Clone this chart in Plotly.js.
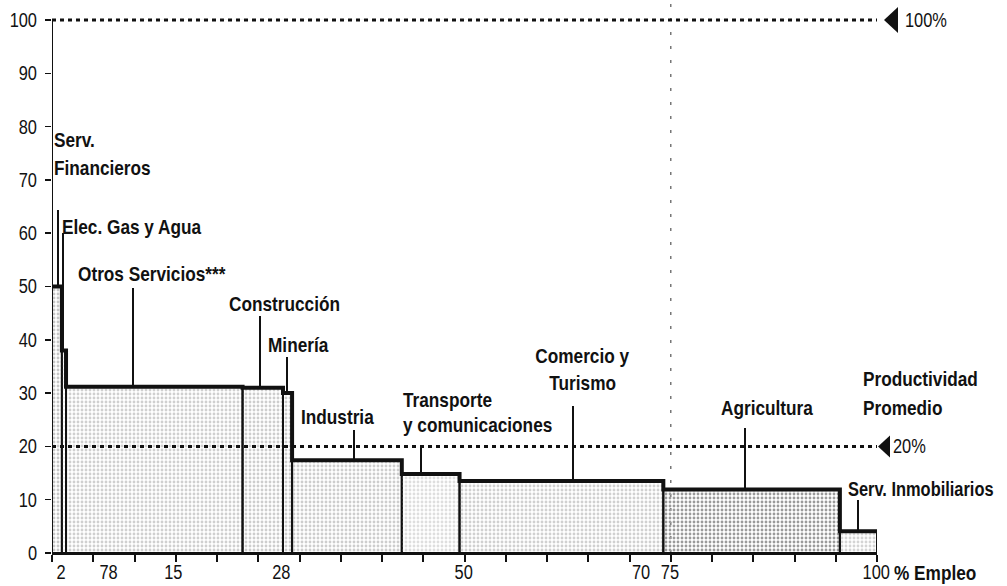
<!DOCTYPE html>
<html><head><meta charset="utf-8">
<script src="https://cdn.plot.ly/plotly-3.0.1.min.js"></script>
<style>html,body{margin:0;padding:0;background:#fff;} #chart{width:1007px;height:586px;}</style>
</head><body><div id="chart"></div>
<script>
// ---- data ----
const sectores = ['Serv. Financieros','Elec. Gas y Agua','Otros Servicios***','Construcción','Minería','Industria','Transporte y comunicaciones','Comercio y Turismo','Agricultura','Serv. Inmobiliarios'];
const empleo = [1.2, 0.5, 21.4, 4.9, 1.1, 13.3, 7.0, 24.7, 21.4, 4.5];          // % of employment (bar widths)
const productividad = [50, 38, 31.2, 31.0, 30.0, 17.4, 14.8, 13.5, 11.9, 4.1]; // bar heights
const promedio = 20;
const maximo = 100;
const corte = 75;
const xTickVals = [1.1, 6.85, 14.7, 27.8, 49.9, 71.4, 74.9, 99.9];
const xTickText = ['2','78','15','28','50','70','75','100'];
const yTickVals = [0,10,20,30,40,50,60,70,80,90,100];

// ---- styles ----
const bgFill = ['#c6c6c6','#c6c6c6','#cfcfcf','#cdcdcd','#cbcbcb','#cdcdcd','#dedede','#d0d0d0','#9a9a9a','#d4d4d4'];
const fgFill = ['#707070','#707070','#7e7e7e','#7c7c7c','#7c7c7c','#7a7a7a','#a4a4a4','#828282','#505050','#8c8c8c'];
const FONT = '"Liberation Sans", Arial, "DejaVu Sans", sans-serif';
const SQUEEZE = 0.82; // narrow (condensed) look of the original lettering

// geometry helpers (layout)
const L = 52, W = 825, H = 553, YMAX = 103.75;
const px2x = p => (p - L) / W * 100;
const py2y = p => (H - p) * YMAX / H;
const px2p = p => (p - L) / W;
const py2p = p => (H - p) / H;
const y2py = v => H - v * H / YMAX;

// derived positions
const starts = [];
let acc = 0;
empleo.forEach(w => { starts.push(acc); acc += w; });
const centers = starts.map((s, i) => s + empleo[i] / 2);

const barTrace = {
  type: 'bar', x: centers, y: productividad, width: empleo, text: sectores,
  hoverinfo: 'skip', textposition: 'none',
  marker: {
    color: bgFill,
    line: {color: '#111', width: 2},
    pattern: {shape: '.', fillmode: 'replace', bgcolor: bgFill, fgcolor: fgFill, size: 4, solidity: 0.4}
  }
};
const topTrace = {
  type: 'scatter', mode: 'lines', hoverinfo: 'skip',
  x: starts.concat([acc]), y: productividad.concat([productividad[productividad.length - 1]]),
  line: {shape: 'hv', color: '#111', width: 4}
};
const tickTrace = {type: 'scatter', x: [], y: [], xaxis: 'x2', yaxis: 'y', hoverinfo: 'skip', showlegend: false};

// label placement (pixels)
const labels = [
  {t:'Serv.', x:53, y:139, a:'left'},
  {t:'Financieros', x:53, y:168, a:'left'},
  {t:'Elec. Gas y Agua', x:61, y:227, a:'left'},
  {t:'Otros Servicios***', x:77, y:273, a:'left'},
  {t:'Construcción', x:228, y:303, a:'left'},
  {t:'Minería', x:267, y:344, a:'left'},
  {t:'Industria', x:300, y:416, a:'left'},
  {t:'Transporte', x:402, y:399, a:'left'},
  {t:'y comunicaciones', x:402, y:424, a:'left'},
  {t:'Comercio y', x:582, y:355, a:'center'},
  {t:'Turismo', x:582, y:382, a:'center'},
  {t:'Agricultura', x:720, y:407, a:'left'},
  {t:'Productividad', x:862, y:378, a:'left'},
  {t:'Promedio', x:862, y:407, a:'left'},
  {t:'Serv. Inmobiliarios', x:847, y:489, a:'left', s:20},
  {t:'% Empleo', x:893, y:572, a:'left'}
];
const leaders = [[58,210],[63,233],[133,288],[260,316],[287,357],[354,430],[421,445],[573,406],[745,428],[858,500]];

const annotations = labels.map(l => ({
  text: l.t, xref: 'paper', yref: 'paper', x: px2p(l.x), y: py2p(l.y),
  xanchor: l.a, align: l.a, yanchor: 'middle', showarrow: false, borderpad: 0,
  font: {family: FONT, size: l.s || 21, color: '#111', weight: 'bold'}
}));
annotations.push({text: '100%', xref:'paper', yref:'paper', x: px2p(904), y: py2p(y2py(maximo)), xanchor:'left', align:'left', yanchor:'middle', showarrow:false, borderpad: 0, font:{family: FONT, size: 20, color:'#111'}});
annotations.push({text: '20%', xref:'paper', yref:'paper', x: px2p(892), y: py2p(y2py(promedio)), xanchor:'left', align:'left', yanchor:'middle', showarrow:false, borderpad: 0, font:{family: FONT, size: 20, color:'#111'}});

const shapes = [];
// vertical dashed line at 75
shapes.push({type:'line', xref:'x', yref:'y', x0: corte, x1: corte, y0: 0, y1: YMAX, layer:'below', line:{color:'#777', width:1.5, dash:'3px,11px'}});
// y axis line
shapes.push({type:'line', xref:'x', yref:'y', x0: 0, x1: 0, y0: 0, y1: maximo, layer:'above', line:{color:'#111', width:2}});
// dotted reference lines
[maximo, promedio].forEach(v => shapes.push({type:'line', xref:'x', yref:'y', x0: 0, x1: 100, y0: v, y1: v, layer:'above', line:{color:'#111', width:3, dash:'4px,4px'}}));
// leader lines
leaders.forEach((ld, i) => shapes.push({type:'line', xref:'x', yref:'y', x0: px2x(ld[0]), x1: px2x(ld[0]), y0: py2y(ld[1]), y1: productividad[i], layer:'above', line:{color:'#111', width:2}}));
// triangles
function tri(tipX, cy, baseX, half) {
  return `M ${px2p(tipX)},${py2p(cy)} L ${px2p(baseX)},${py2p(cy - half)} L ${px2p(baseX)},${py2p(cy + half)} Z`;
}
shapes.push({type:'path', xref:'paper', yref:'paper', path: tri(884, y2py(maximo), 898, 13), fillcolor:'#111', line:{width:0}});
shapes.push({type:'path', xref:'paper', yref:'paper', path: tri(878, y2py(promedio), 890, 11), fillcolor:'#111', line:{width:0}});

const layout = {
  width: 1007, height: 586,
  margin: {l: L, r: 1007 - L - W, t: 0, b: 586 - H, pad: 0},
  paper_bgcolor: '#fff', plot_bgcolor: '#fff',
  showlegend: false,
  xaxis: {range: [0, 100], tickvals: [0,5,10,15,20,25,30,35,40,45,50,55,60,65,70,75,80,85,90,95,100],
          showticklabels: false, ticks: 'outside', ticklen: 7, tickwidth: 2, tickcolor: '#111',
          showline: true, linewidth: 2, linecolor: '#111', showgrid: false, zeroline: false, fixedrange: true},
  xaxis2: {overlaying: 'x', anchor: 'y', side: 'bottom', range: [0, 100], tickmode: 'array', tickvals: xTickVals, ticktext: xTickText,
           ticks: '', tickangle: 0, showline: false, showgrid: false, zeroline: false, ticklabelstandoff: 5,
           tickfont: {family: FONT, size: 20, color: '#111'}, fixedrange: true},
  yaxis: {range: [0, YMAX], tickvals: yTickVals, ticks: 'outside', ticklen: 6, tickwidth: 1.5, tickcolor: '#111',
          showline: false, showgrid: false, zeroline: false, ticklabelstandoff: 4,
          tickfont: {family: FONT, size: 20, color: '#111'}, fixedrange: true},
  annotations: annotations,
  shapes: shapes
};

Plotly.newPlot('chart', [barTrace, topTrace, tickTrace], layout, {displayModeBar: false, staticPlot: true}).then(gd => {
  // give the lettering the narrow look of the original (text stays real text)
  gd.querySelectorAll('text').forEach(t => {
    if (!t.textContent || !t.textContent.trim()) return;
    const w = t.getComputedTextLength();
    if (w > 0) {
      t.setAttribute('textLength', (w * SQUEEZE).toFixed(2));
      t.setAttribute('lengthAdjust', 'spacingAndGlyphs');
    }
  });
  // shrink annotation boxes to the narrowed text
  gd.querySelectorAll('g.annotation').forEach(g => {
    const r = g.querySelector('rect.bg');
    const t = g.querySelector('text.annotation-text');
    if (!r || !t) return;
    const w = +r.getAttribute('width');
    const nw = w * SQUEEZE;
    const anchor = t.getAttribute('text-anchor');
    const x = +r.getAttribute('x') || 0;
    if (anchor === 'middle') r.setAttribute('x', x + (w - nw) / 2);
    else if (anchor === 'end') r.setAttribute('x', x + (w - nw));
    r.setAttribute('width', nw);
  });
});
</script>
</body></html>
